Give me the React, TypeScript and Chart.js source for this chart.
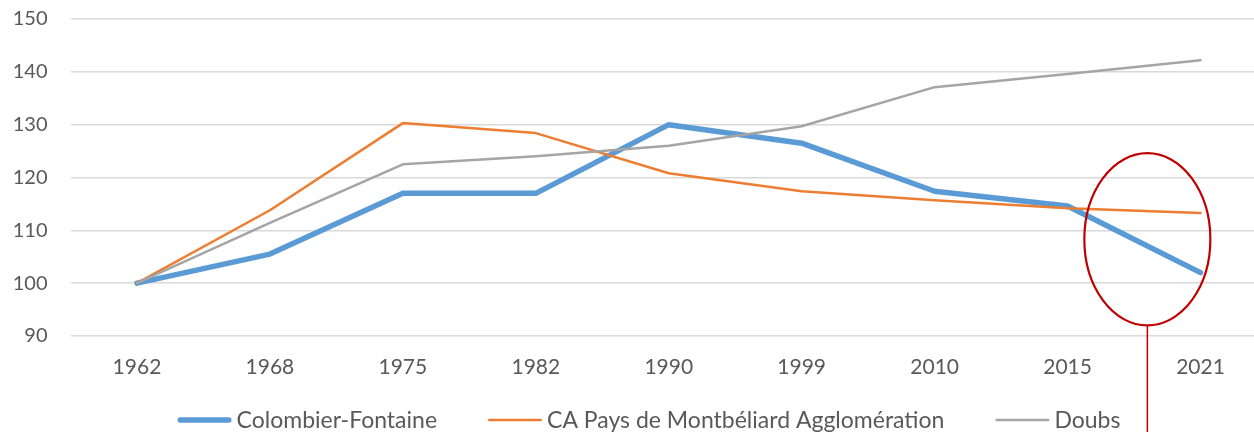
import React, { useEffect, useRef } from "react";
import { Chart, registerables } from "chart.js";

Chart.register(...registerables);

const categories = ["1962", "1968", "1975", "1982", "1990", "1999", "2010", "2015", "2021"];
const colombierFontaine = [100, 105.5, 117, 117, 130, 126.5, 117.4, 114.6, 102];
const caPaysMontbeliard = [100, 113.8, 130.3, 128.4, 120.8, 117.4, 115.7, 114.2, 113.3];
const doubs = [100, 111.4, 122.5, 124, 126, 129.7, 137.1, 139.6, 142.2];
const seriesNames = ["Colombier-Fontaine", "CA Pays de Montbéliard Agglomération", "Doubs"];
const seriesColors = ["#5B9BD5", "#ED7D31", "#A5A5A5"];
const seriesWidths = [5.5, 2.5, 2.5];
const yMin = 90;
const yMax = 150;
const yStep = 10;
// highlight ellipse in data units (category index / value)
const highlightCenterIndex = 7.6;
const highlightCenterValue = 108.3;
const highlightRadiusIndex = 0.474;
const highlightRadiusValue = 16.3;

const FONT = "Lato, 'Open Sans', sans-serif";
const TEXT_COLOR = "#595959";

const highlightPlugin = {
  id: "highlight",
  afterDraw(chart: any) {
    const xs = chart.scales.x;
    const ys = chart.scales.y;
    const ctx = chart.ctx;
    const cx = xs.getPixelForValue(highlightCenterIndex);
    const cy = ys.getPixelForValue(highlightCenterValue);
    const rx = xs.getPixelForValue(highlightCenterIndex + highlightRadiusIndex) - cx;
    const ry = ys.getPixelForValue(highlightCenterValue - highlightRadiusValue) - cy;
    ctx.save();
    ctx.strokeStyle = "#C00000";
    ctx.lineWidth = 2.2;
    ctx.beginPath();
    ctx.ellipse(cx, cy, rx, ry, 0, 0, Math.PI * 2);
    ctx.stroke();
    ctx.lineWidth = 1.5;
    ctx.beginPath();
    ctx.moveTo(cx, cy + ry);
    ctx.lineTo(cx, chart.height);
    ctx.stroke();
    ctx.restore();
  },
};

const legendPlugin = {
  id: "customLegend",
  afterDraw(chart: any) {
    const ctx = chart.ctx;
    const sample = 54;
    const textGap = 5;
    const itemGap = 51;
    const centerX = 649;
    const y = 420;
    ctx.save();
    ctx.font = `23px ${FONT}`;
    const widths = chart.data.datasets.map((d: any) => sample + textGap + ctx.measureText(d.label).width);
    const total = widths.reduce((a: number, b: number) => a + b, 0) + itemGap * (widths.length - 1);
    let x = centerX - total / 2;
    chart.data.datasets.forEach((d: any, i: number) => {
      ctx.strokeStyle = d.borderColor;
      ctx.lineWidth = d.borderWidth;
      ctx.lineCap = "round";
      ctx.beginPath();
      ctx.moveTo(x + d.borderWidth / 2, y);
      ctx.lineTo(x + sample - d.borderWidth / 2, y);
      ctx.stroke();
      ctx.fillStyle = TEXT_COLOR;
      ctx.textBaseline = "middle";
      ctx.textAlign = "left";
      ctx.fillText(d.label, x + sample + textGap, y + 1);
      x += widths[i] + itemGap;
    });
    ctx.restore();
  },
};

export default function App() {
  const ref = useRef<HTMLCanvasElement>(null);
  useEffect(() => {
    if (!ref.current) return;
    const seriesData = [colombierFontaine, caPaysMontbeliard, doubs];
    const chart = new Chart(ref.current, {
      type: "line",
      data: {
        labels: categories,
        datasets: seriesData.map((data, i) => ({
          label: seriesNames[i],
          data,
          borderColor: seriesColors[i],
          backgroundColor: seriesColors[i],
          borderWidth: seriesWidths[i],
          pointRadius: 0,
          tension: 0,
          borderCapStyle: "round",
          borderJoinStyle: "round",
          order: 2 - i,
        })),
      },
      options: {
        responsive: false,
        animation: false,
        devicePixelRatio: 1,
        layout: { padding: { top: 19, right: 0, bottom: 0, left: 0 } },
        plugins: {
          legend: { display: false },
          tooltip: { enabled: false },
        },
        scales: {
          x: {
            offset: true,
            grid: { display: false, drawTicks: false },
            border: { display: false },
            ticks: {
              color: TEXT_COLOR,
              font: { family: FONT, size: 21 },
              padding: 19,
              maxRotation: 0,
            },
            afterFit(axis: any) {
              axis.height = 96;
              axis.paddingLeft = 0;
              axis.paddingRight = 0;
            },
          },
          y: {
            min: yMin,
            max: yMax,
            grid: { color: "#D9D9D9", lineWidth: 1.5, drawTicks: false },
            border: { display: false },
            ticks: {
              stepSize: yStep,
              color: TEXT_COLOR,
              font: { family: FONT, size: 20 },
              padding: 23,
            },
            afterFit(axis: any) {
              axis.width = 70.5;
              axis.paddingTop = 0;
              axis.paddingBottom = 0;
            },
          },
        },
      },
      plugins: [highlightPlugin, legendPlugin],
    });
    return () => chart.destroy();
  }, []);
  return (
    <div style={{ position: "fixed", left: 0, top: 0, width: 1254, height: 432, overflow: "hidden", background: "#fff" }}>
      <canvas ref={ref} width={1267} height={432} style={{ display: "block" }} />
    </div>
  );
}
